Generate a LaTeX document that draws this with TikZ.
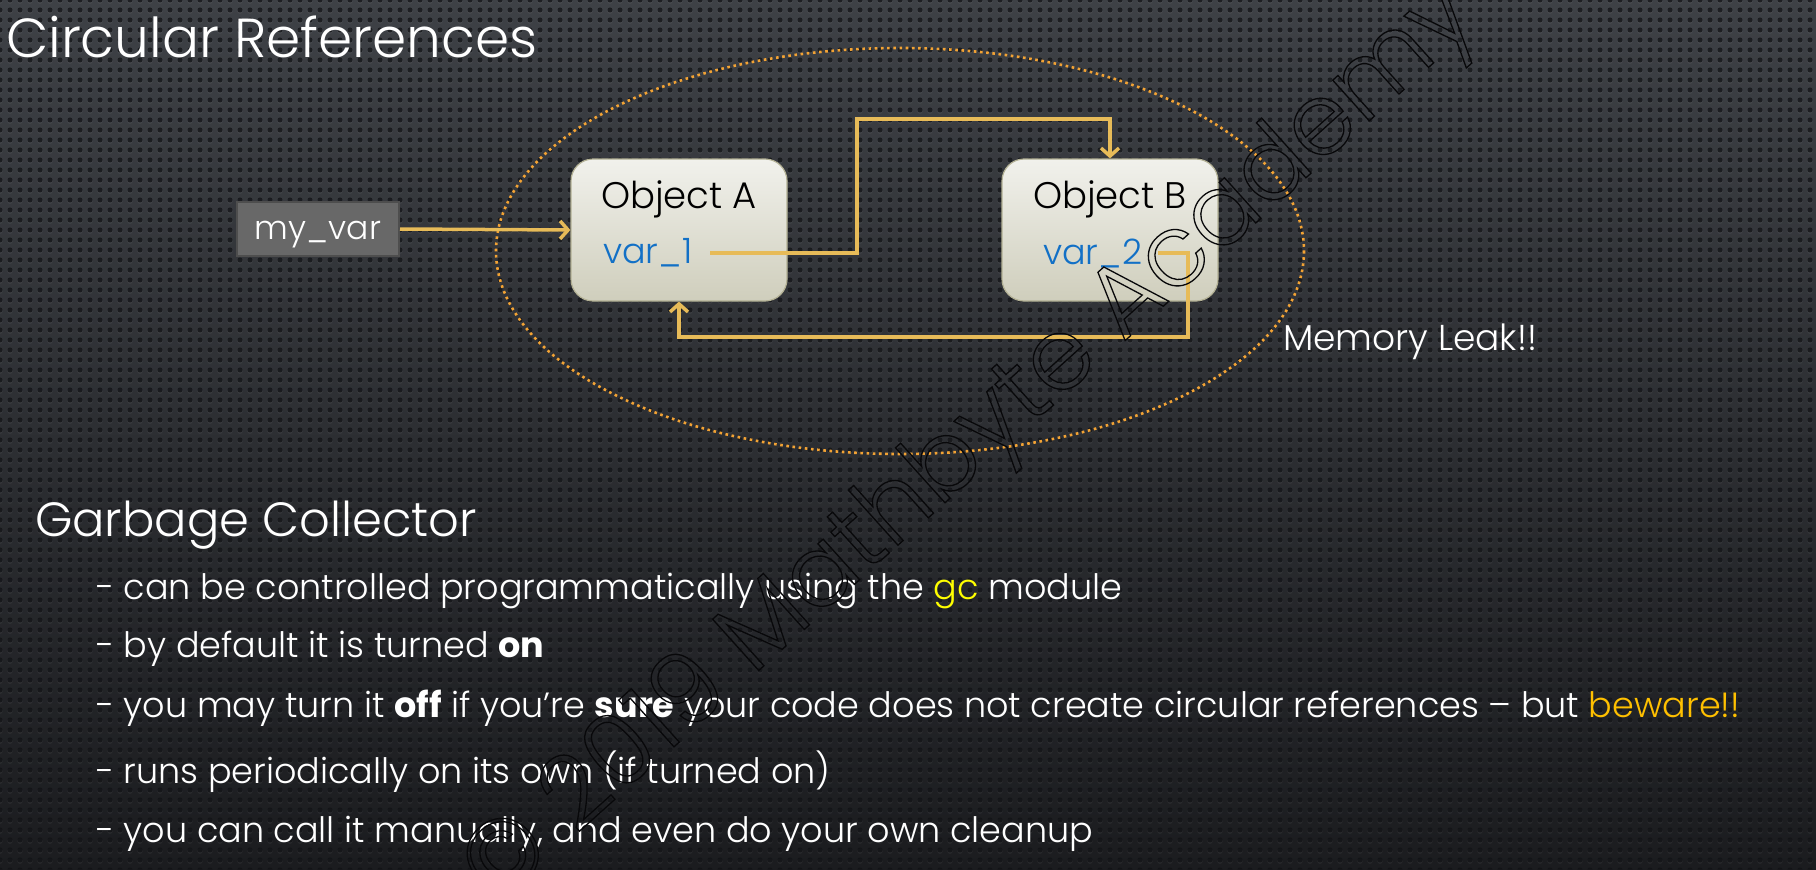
\documentclass[tikz,border=0pt]{standalone}
\usepackage{fontspec}
\IfFontExistsTF{Poppins Light}
  {\IfFontExistsTF{Poppins Bold}
     {\setmainfont{Poppins Light}[BoldFont={Poppins Bold}]}
     {\setmainfont{Poppins Light}[BoldFont={Poppins}]}}
  {\setmainfont{Poppins}}
\usetikzlibrary{arrows.meta,patterns.meta,calc}

\definecolor{bgtop}{RGB}{62,65,70}
\definecolor{bgbot}{RGB}{27,28,31}
\definecolor{dotcol}{RGB}{16,17,20}
\definecolor{linkcol}{RGB}{231,187,88}
\definecolor{ringcol}{RGB}{243,163,52}
\definecolor{boxtop}{RGB}{241,241,236}
\definecolor{boxbot}{RGB}{207,206,188}
\definecolor{boxedge}{RGB}{178,176,148}
\definecolor{varblue}{RGB}{18,112,198}
\definecolor{gcyellow}{RGB}{255,255,0}
\definecolor{bewarecol}{RGB}{255,192,0}
\definecolor{chipfill}{RGB}{104,104,104}
\definecolor{chipedge}{RGB}{78,78,78}
\definecolor{wmcol}{RGB}{8,8,10}

\newcommand{\fs}[1]{\fontsize{#1}{#1}\selectfont}
% outlined glyphs for the watermark
\newcommand{\outlinetext}[1]{\special{pdf:literal direct 1 Tr 1.3 w}#1\special{pdf:literal direct 0 Tr}}

\tikzset{
  txt/.style={inner sep=0pt, outer sep=0pt},
  chipbox/.style={fill=chipfill, draw=chipedge, line width=2pt,
    minimum width=162pt, minimum height=54pt, text=white, font=\fs{33},
    text height=22pt, text depth=2pt},
  objbox/.style={rounded corners=22pt, top color=boxtop, bottom color=boxbot,
    draw=boxedge, line width=1.2pt, minimum width=216pt, minimum height=142pt},
  objtitle/.style={txt, text=black, font=\fs{37}},
  vartext/.style={txt, text=varblue, font=\fs{35}, anchor=west},
  linkline/.style={draw=linkcol, line width=3.5pt,
    -{Straight Barb[length=8pt,width=18pt]}},
  ringline/.style={draw=ringcol, line width=2.6pt, dash pattern=on 2.6pt off 3.6pt},
  bullet/.style={txt, anchor=base west, text=white, font=\fs{35}}
}

\begin{document}
\begin{tikzpicture}[x=1pt,y=-1pt]
\useasboundingbox (0,0) rectangle (1816,870);

% perforated dark backdrop
\fill[top color=bgtop, bottom color=bgbot] (0,0) rectangle (1816,870);
\fill[pattern={Dots[distance=10pt,radius=2.7pt,yshift=-1.2pt]}, pattern color=white, fill opacity=0.06] (0,0) rectangle (1816,870);
\fill[pattern={Dots[distance=10pt,radius=2.5pt]}, pattern color=dotcol, fill opacity=0.75] (0,0) rectangle (1816,870);

% headings
\node[txt, anchor=base west, text=white, font=\fs{55}] (title) at (6,57) {Circular References};

% the reference cycle
\draw[ringline] (900,251) ellipse [x radius=404, y radius=203];

\node[chipbox] (mv) at (318,229) {my\_var};
\node[objbox] (objA) at (679,230) {};
\node[objbox] (objB) at (1110,230) {};
\node[objtitle] (tA) at (679,199) {Object A};
\node[objtitle] (tB) at (1110,199) {Object B};
\node[vartext] (v1) at (603,253) {var\_1};
\node[vartext] (v2) at (1043,253) {var\_2};

\coordinate (upA) at (857,119);
\coordinate (dnB) at (1188,337);
\draw[linkline] (mv.east) -- (objA.west);
\draw[linkline] ([xshift=18pt]v1.east) -| (upA) -| (objB.north);
\draw[linkline] ([xshift=16pt]v2.east) -| (dnB) -| (objA.south);

\node[txt, anchor=west, text=white, font=\fs{36}] (leak) at (1283,342) {Memory Leak!!};

% garbage collector notes
\node[txt, anchor=base west, text=white, font=\fs{48}] (gc) at (35,536) {Garbage Collector};
\node[bullet] (b1) at (96,599) {- can be controlled programmatically using the \textcolor{gcyellow}{gc} module};
\node[bullet] (b2) at (96,657) {- by default it is turned \textbf{on}};
\node[bullet] (b3) at (96,717) {- you may turn it \textbf{off} if you’re \textbf{sure} your code does not create circular references – but \textcolor{bewarecol}{beware!!}};
\node[bullet] (b4) at (96,783) {- runs periodically on its own (if turned on)};
\node[bullet] (b5) at (96,842) {- you can call it manually, and even do your own cleanup};

% watermark
\node[txt, rotate=42, text=wmcol, font=\fs{100}] (wm) at (972,446) {\outlinetext{© 2019 Mathbyte Academy}};
\end{tikzpicture}
\end{document}
